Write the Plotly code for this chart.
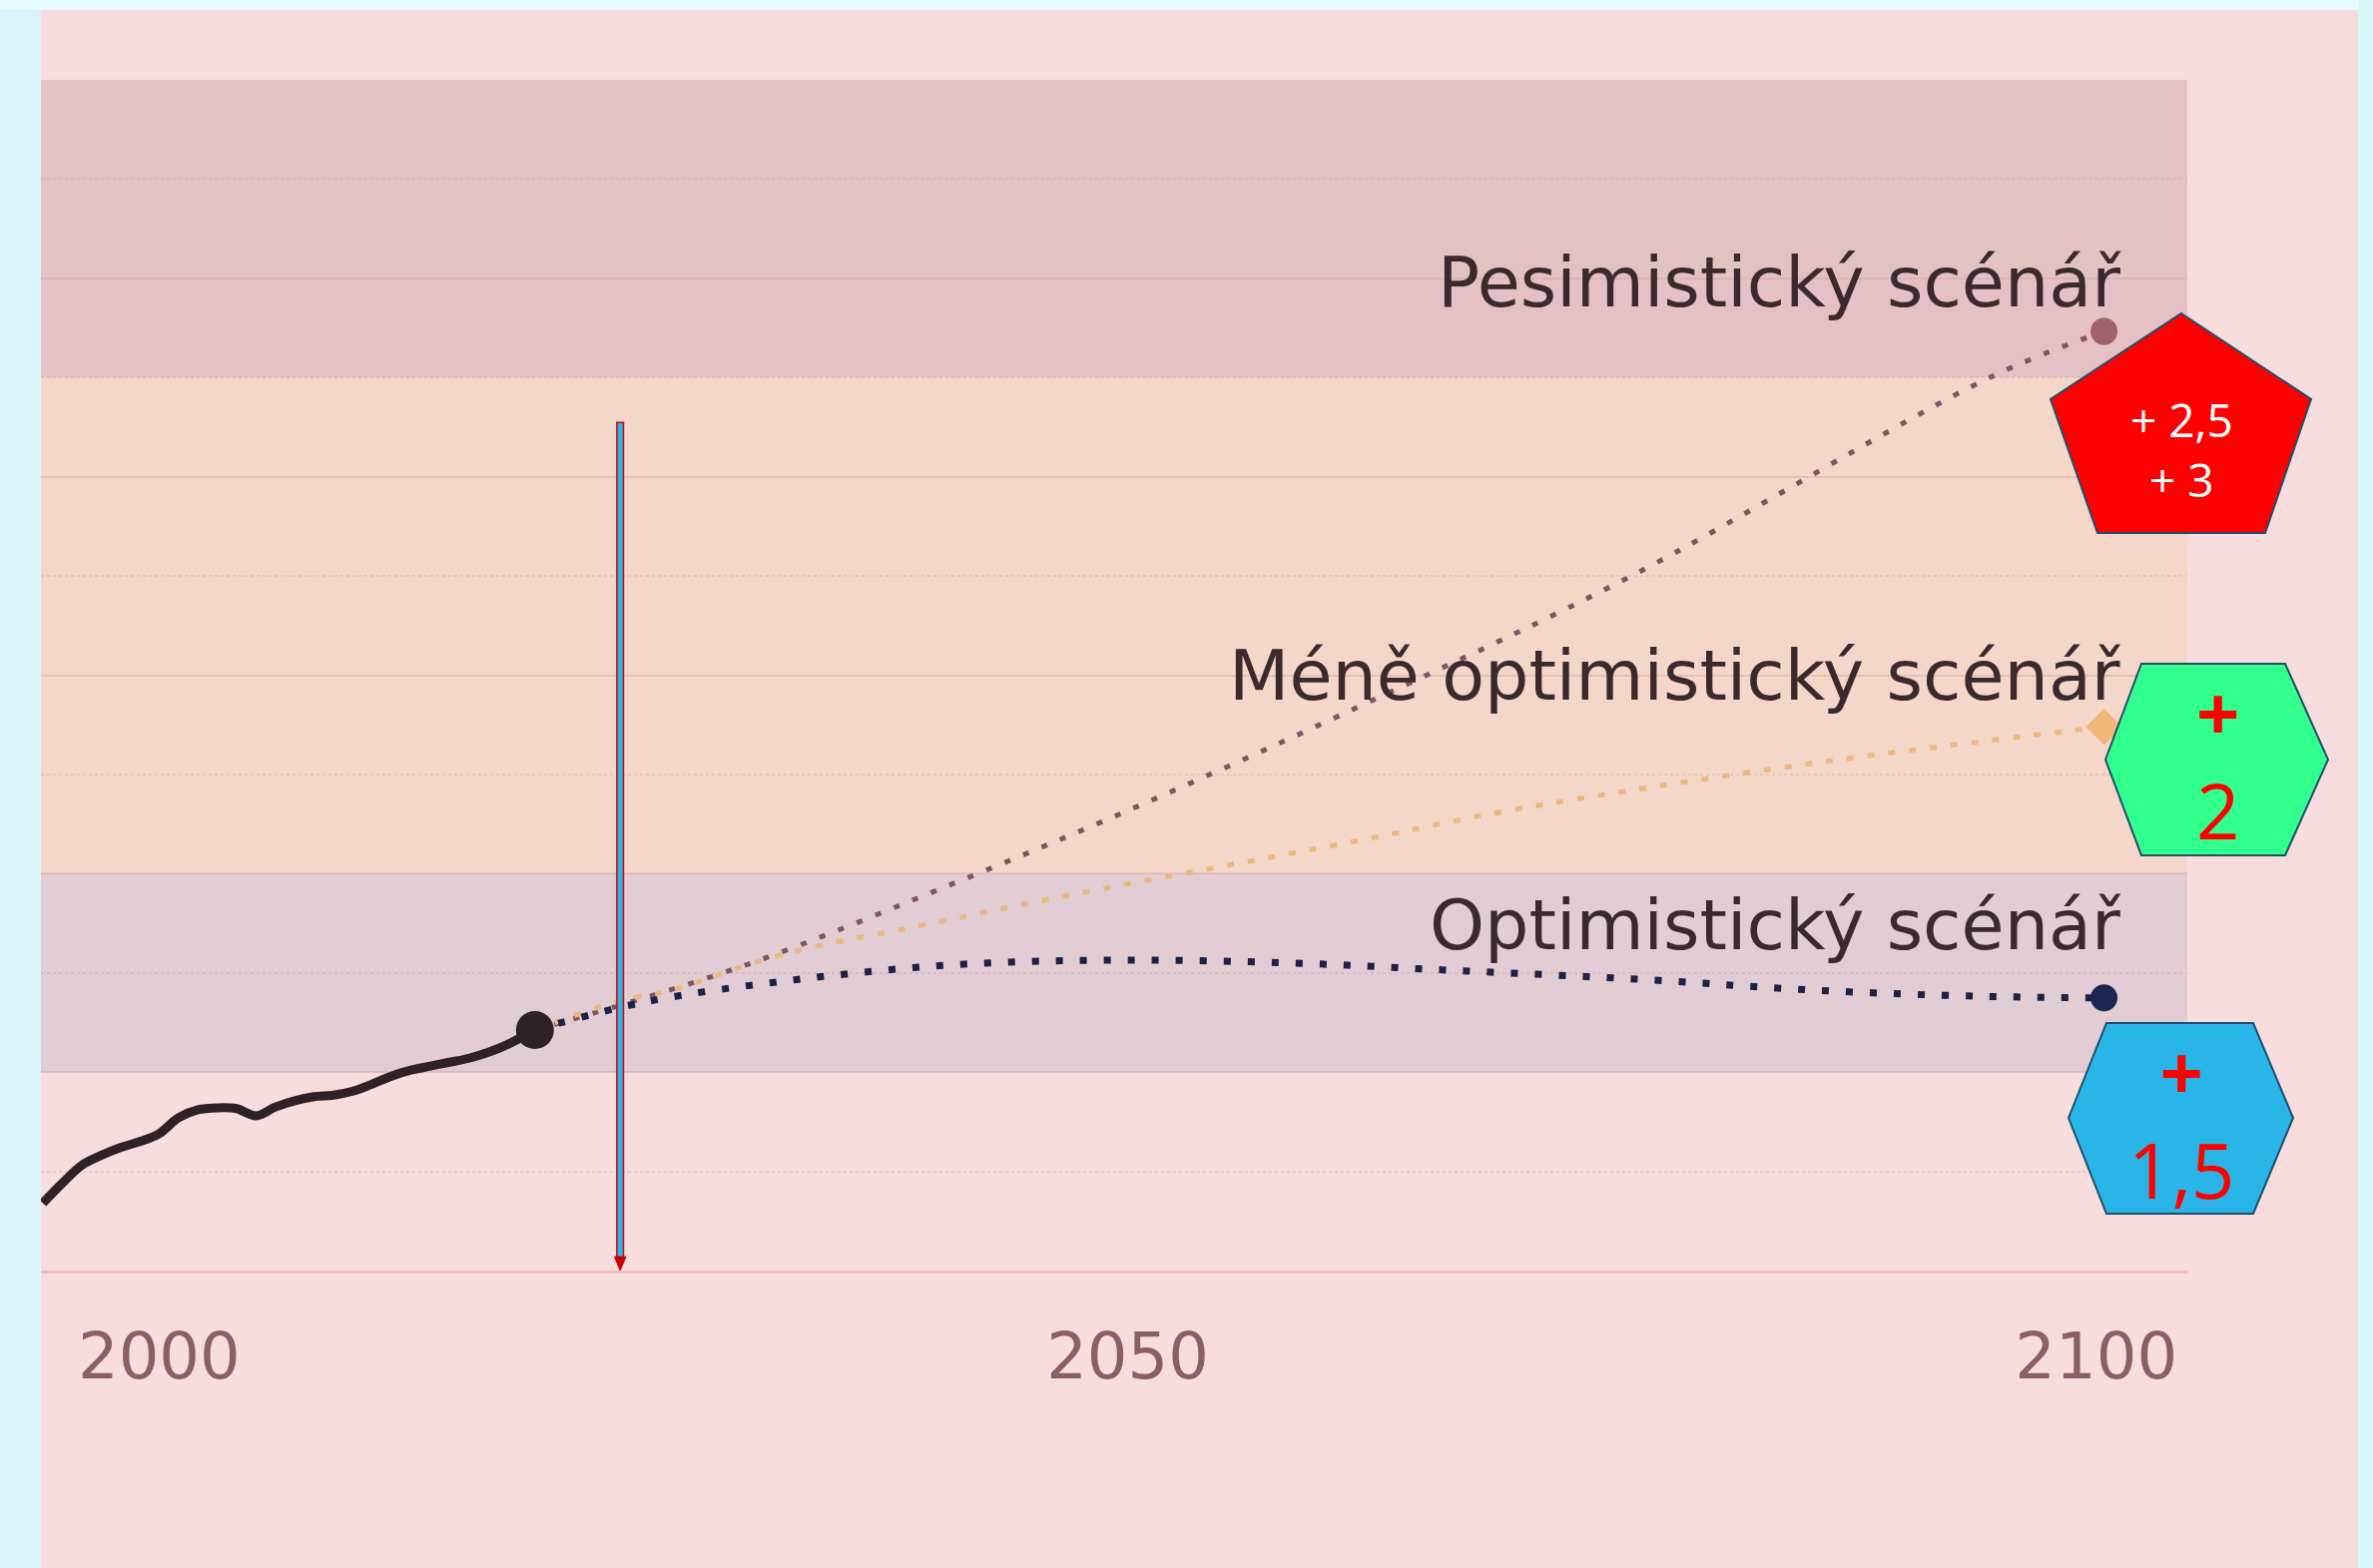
import plotly.graph_objects as go

# ---------------- data ----------------
hist_years = [1994, 1995, 1996, 1997, 1998, 1999, 2000, 2001, 2002, 2003, 2004,
              2005, 2006, 2007, 2008, 2009, 2010, 2011, 2012, 2013, 2014, 2015,
              2016, 2017, 2018, 2019.4]
hist_values = [0.17, 0.22, 0.265, 0.29, 0.31, 0.325, 0.345, 0.385, 0.405, 0.41, 0.408,
               0.39, 0.412, 0.428, 0.438, 0.442, 0.452, 0.47, 0.49, 0.505, 0.515, 0.525,
               0.535, 0.55, 0.57, 0.606]

pes_years = [2019.4, 2030, 2042, 2051, 2063, 2076, 2094.5, 2100.4]
pes_values = [0.606, 0.765, 0.995, 1.18, 1.445, 1.75, 2.25, 2.366]

mid_years = [2019.4, 2023.8, 2026.4, 2032.3, 2039.8, 2047.1, 2054.5, 2062, 2069.8, 2085.5, 2100.4]
mid_values = [0.606, 0.68, 0.706, 0.798, 0.874, 0.947, 1.015, 1.084, 1.16, 1.279, 1.37]

opt_years = [2019.4, 2025, 2032.9, 2041.2, 2049.6, 2058.4, 2066.9, 2076.7, 2085.6, 2094, 2100.4]
opt_values = [0.606, 0.676, 0.733, 0.771, 0.782, 0.775, 0.756, 0.733, 0.706, 0.691, 0.687]

band_lows = [0.5, 1.0, 2.25, 2.5]
band_highs = [1.0, 2.25, 2.5, 3.0]
band_colors = ["#E1CDD3", "#F5D7C9", "#E5C1C6", "#E3C3C1"]

scenario_labels = ["Pesimistický scénář", "Méně optimistický scénář", "Optimistický scénář"]
scenario_label_y = [2.49, 1.50, 0.87]

tick_years = [2000, 2050, 2100]
tick_text = ["2000", "2050", "2100"]

marker_year = 2023.8      # vertical arrow
marker_top = 2.137

# ---------------- geometry helpers ----------------
W, H = 2377, 1571
L, R, T, B = 41, 186, 80, 298
PW, PH = W - L - R, H - T - B


def px(x):
    return (x - L) / PW


def py(y):
    return (H - B - y) / PH


def poly_path(points):
    return "M " + " L ".join(f"{px(x):.5f},{py(y):.5f}" for x, y in points) + " Z"


fig = go.Figure()

# historical line
fig.add_trace(go.Scatter(x=hist_years, y=hist_values, mode="lines",
                         line=dict(color="#2E2226", width=9, shape="spline"),
                         hoverinfo="skip", showlegend=False))

# scenarios
fig.add_trace(go.Scatter(x=pes_years, y=pes_values, mode="lines",
                         line=dict(color="#7E5560", width=5, dash="6px,14px", shape="spline"),
                         showlegend=False))
fig.add_trace(go.Scatter(x=mid_years, y=mid_values, mode="lines",
                         line=dict(color="#EDB77E", width=5, dash="7px,14px", shape="spline"),
                         showlegend=False))
fig.add_trace(go.Scatter(x=opt_years, y=opt_values, mode="lines",
                         line=dict(color="#1C2147", width=7, dash="7px,17px", shape="spline"),
                         showlegend=False))

# end points
fig.add_trace(go.Scatter(x=[pes_years[-1]], y=[pes_values[-1]], mode="markers",
                         marker=dict(color="#A0616C", size=27), showlegend=False))
fig.add_trace(go.Scatter(x=[mid_years[-1]], y=[mid_values[-1]], mode="markers",
                         marker=dict(color="#F0B878", size=28, symbol="diamond"), showlegend=False))
fig.add_trace(go.Scatter(x=[opt_years[-1]], y=[opt_values[-1]], mode="markers",
                         marker=dict(color="#1B2550", size=27), showlegend=False))
fig.add_trace(go.Scatter(x=[hist_years[-1]], y=[hist_values[-1]], mode="markers",
                         marker=dict(color="#2E2226", size=38), showlegend=False))

shapes = []
# page decorations (slide background strips)
shapes.append(dict(type="rect", xref="paper", yref="paper", x0=px(0), x1=px(L), y0=py(H), y1=py(0),
                   fillcolor="#D9F5F9", line=dict(width=0), layer="below"))
shapes.append(dict(type="rect", xref="paper", yref="paper", x0=px(0), x1=px(W), y0=py(10), y1=py(0),
                   fillcolor="#E6FCFD", line=dict(width=0), layer="below"))
shapes.append(dict(type="rect", xref="paper", yref="paper", x0=px(2362), x1=px(W), y0=py(H), y1=py(0),
                   fillcolor="#D6F6FA", line=dict(width=0), layer="below"))

# scenario bands
for lo, hi, c in zip(band_lows, band_highs, band_colors):
    shapes.append(dict(type="rect", xref="paper", yref="y", x0=0, x1=1, y0=lo, y1=hi,
                       fillcolor=c, line=dict(width=0), layer="below"))

# vertical arrow (now)
shapes.append(dict(type="rect", xref="x", yref="y", x0=marker_year - 0.17, x1=marker_year + 0.17,
                   y0=0.03, y1=marker_top, fillcolor="#29B5E8", line=dict(color="#D00000", width=1.5)))
shapes.append(dict(type="path", xref="x", yref="y",
                   path=f"M {marker_year-0.3},0.035 L {marker_year+0.3},0.035 L {marker_year},0.0 Z",
                   fillcolor="#D00000", line=dict(color="#D00000", width=1)))

# badges
pent = [(2185, 314), (2315, 400), (2269, 534), (2101, 534), (2054, 400)]
hex_g = [(2109, 761), (2145, 665), (2289, 665), (2332, 761), (2289, 857), (2145, 857)]
hex_b = [(2072, 1120), (2110, 1025), (2257, 1025), (2297, 1120), (2257, 1216), (2110, 1216)]
for pts, col in [(pent, "#FF0000"), (hex_g, "#31FF8E"), (hex_b, "#29B5E8")]:
    shapes.append(dict(type="path", xref="paper", yref="paper", path=poly_path(pts),
                       fillcolor=col, line=dict(color="#1F4E6B", width=2)))

annotations = []
for txt, yv in zip(scenario_labels, scenario_label_y):
    annotations.append(dict(x=2101.4, y=yv, xref="x", yref="y", text=txt, showarrow=False,
                            xanchor="right", yanchor="middle",
                            font=dict(family="DejaVu Sans", size=70, color="#3A2A2E")))

badge_texts = [
    ("+ 2,5<br>+ 3", 2185, 450, 46, "white"),
    ("<b>+</b><br>2", 2221, 762, 76, "#FF0000"),
    ("<b>+</b><br>1,5", 2185, 1122, 76, "#FF0000"),
]
for txt, x, y, s, c in badge_texts:
    annotations.append(dict(x=px(x), y=py(y), xref="paper", yref="paper", text=txt, showarrow=False,
                            xanchor="center", yanchor="middle",
                            font=dict(family="Open Sans", size=s, color=c)))

fig.update_layout(
    width=W, height=H, autosize=False,
    margin=dict(l=L, r=R, t=T, b=B),
    paper_bgcolor="#F8DDDE",
    plot_bgcolor="rgba(0,0,0,0)",
    shapes=shapes, annotations=annotations,
    showlegend=False,
    xaxis=dict(range=[1993.9, 2104.7], tickvals=tick_years, ticktext=tick_text,
               showgrid=False, zeroline=False, showline=True, linecolor="#EBC0C5", linewidth=3,
               ticks="", ticklabelstandoff=28,
               tickfont=dict(family="DejaVu Sans", size=64, color="#8B5F67")),
    yaxis=dict(range=[0, 3.0], dtick=0.5, tick0=0, showticklabels=False, zeroline=False,
               gridcolor="rgba(205,150,150,0.35)", gridwidth=2,
               minor=dict(dtick=0.25, showgrid=True, griddash="dot",
                          gridcolor="rgba(190,140,140,0.25)", gridwidth=2),
               ticks=""),
)

fig.write_html("out.html", config={"displayModeBar": False},
               post_script="document.body.style.margin='0px';")
